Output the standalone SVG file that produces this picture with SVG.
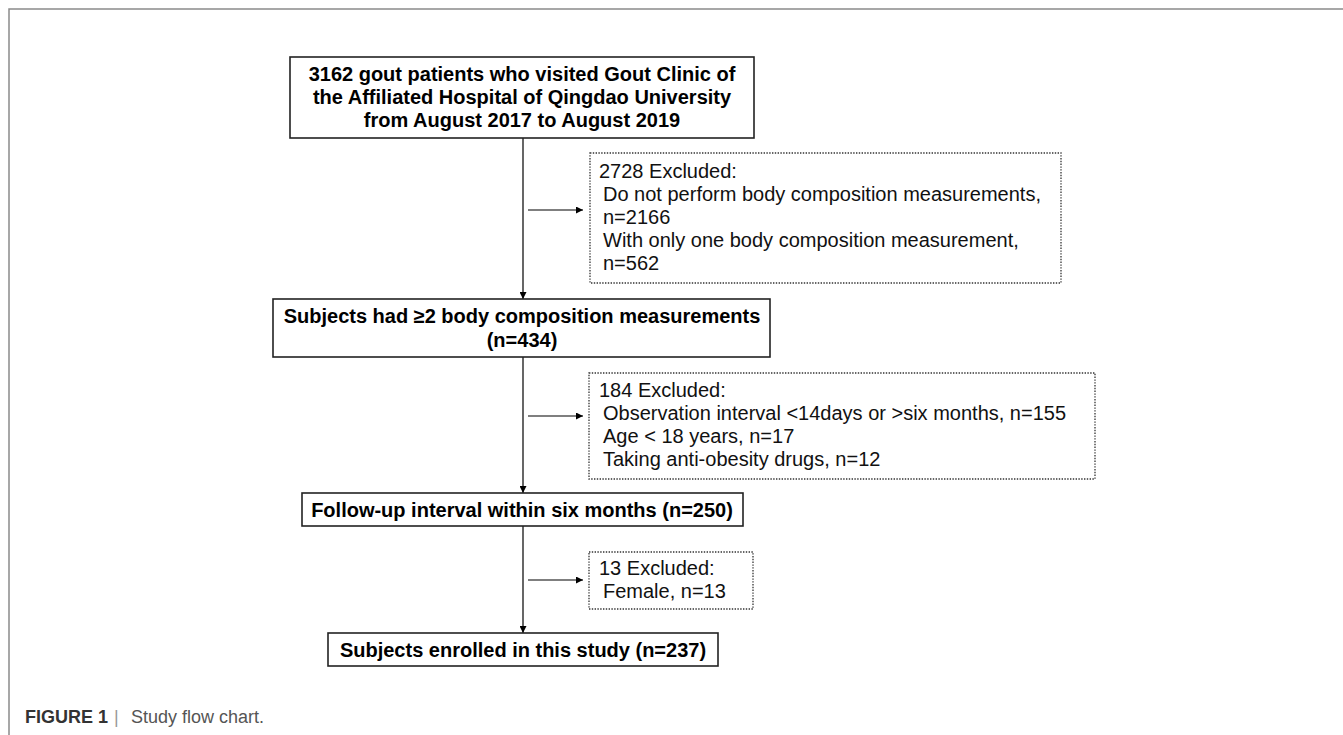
<svg xmlns="http://www.w3.org/2000/svg" width="1343" height="735" viewBox="0 0 1343 735">
<style>
.box{fill:#fff;stroke:#222;stroke-width:1.6}
.dbox{fill:#fff;stroke:#333;stroke-width:1.3;stroke-dasharray:1.4 1.4}
.bt{font-family:"Liberation Sans",Arial,sans-serif;font-weight:bold;font-size:20px;fill:#000;text-anchor:middle}
.nt{font-family:"Liberation Sans",Arial,sans-serif;font-size:20px;fill:#111}
.ln{stroke:#000;stroke-width:1.2;fill:none}
.cap{font-family:"Liberation Sans",Arial,sans-serif;font-size:18px}
</style>
<defs>
<marker id="ah" viewBox="0 0 10 10" refX="10" refY="5" markerWidth="9" markerHeight="7" markerUnits="userSpaceOnUse" orient="auto">
<path d="M0,0 L10,5 L0,10 z" fill="#000"/>
</marker>
</defs>
<rect width="1343" height="735" fill="#fff"/>
<g id="frame">
<path d="M9,735 V9 H1343" fill="none" stroke="#8a8a8a" stroke-width="1.5"/>
</g>
<g id="connectors">
<line class="ln" x1="523" y1="138" x2="523" y2="299" marker-end="url(#ah)"/>
<line class="ln" x1="523" y1="357" x2="523" y2="493" marker-end="url(#ah)"/>
<line class="ln" x1="523" y1="526" x2="523" y2="633" marker-end="url(#ah)"/>
<line class="ln" x1="528" y1="210" x2="583" y2="210" marker-end="url(#ah)"/>
<line class="ln" x1="528" y1="416" x2="583" y2="416" marker-end="url(#ah)"/>
<line class="ln" x1="528" y1="580" x2="583" y2="580" marker-end="url(#ah)"/>
</g>
<g id="n1">
<rect class="box" x="290" y="57" width="464" height="81"/>
<text class="bt" x="522" y="81">3162 gout patients who visited Gout Clinic of</text>
<text class="bt" x="522" y="104">the Affiliated Hospital of Qingdao University</text>
<text class="bt" x="522" y="127">from August 2017 to August 2019</text>
</g>
<g id="e1">
<rect class="dbox" x="590" y="153" width="471" height="130"/>
<text class="nt" x="599" y="178">2728 Excluded:</text>
<text class="nt" x="603" y="201">Do not perform body composition measurements,</text>
<text class="nt" x="603" y="224">n=2166</text>
<text class="nt" x="603" y="247">With only one body composition measurement,</text>
<text class="nt" x="603" y="270">n=562</text>
</g>
<g id="n2">
<rect class="box" x="273" y="299" width="497" height="58"/>
<text class="bt" x="522" y="323">Subjects had ≥2 body composition measurements</text>
<text class="bt" x="522" y="347">(n=434)</text>
</g>
<g id="e2">
<rect class="dbox" x="589" y="373" width="506" height="106"/>
<text class="nt" x="599" y="397">184 Excluded:</text>
<text class="nt" x="603" y="420">Observation interval &lt;14days or &gt;six months, n=155</text>
<text class="nt" x="603" y="443">Age &lt; 18 years, n=17</text>
<text class="nt" x="603" y="466">Taking anti-obesity drugs, n=12</text>
</g>
<g id="n3">
<rect class="box" x="302" y="493" width="441" height="33"/>
<text class="bt" x="522" y="517">Follow-up interval within six months (n=250)</text>
</g>
<g id="e3">
<rect class="dbox" x="589" y="552" width="164" height="57"/>
<text class="nt" x="599" y="575">13 Excluded:</text>
<text class="nt" x="603" y="598">Female, n=13</text>
</g>
<g id="n4">
<rect class="box" x="328" y="633" width="390" height="33"/>
<text class="bt" x="523" y="657">Subjects enrolled in this study (n=237)</text>
</g>
<g id="caption">
<text class="cap" y="723"><tspan x="25" font-weight="bold" fill="#333">FIGURE 1</tspan><tspan x="114" fill="#999">|</tspan><tspan x="131" fill="#555">Study flow chart.</tspan></text>
</g>
</svg>
